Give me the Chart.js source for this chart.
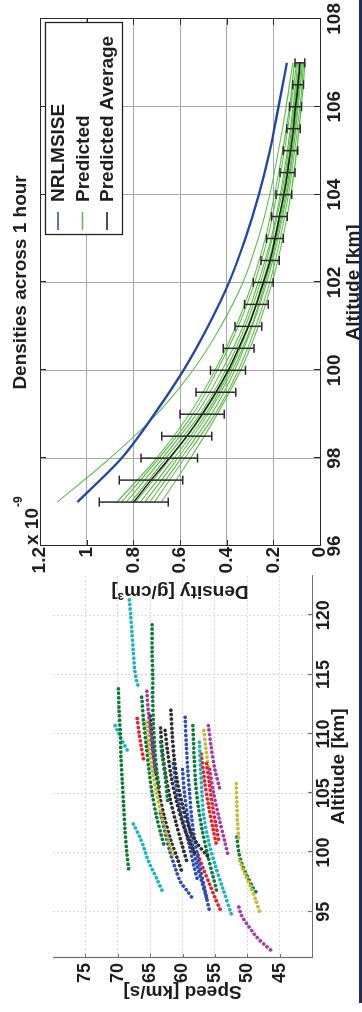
<!DOCTYPE html>
<html>
<head>
<meta charset="utf-8">
<script src="https://cdn.jsdelivr.net/npm/chart.js@4"></script>
<style>
  html, body { margin: 0; padding: 0; background: #fff; width: 362px; height: 1012px; overflow: hidden; }
  #fig { position: absolute; left: 0; top: 1012px; width: 1012px; height: 362px; transform-origin: 0 0; transform: rotate(-90deg); }
  #fig canvas { position: absolute; top: 0; }
  #speedCanvas { left: 0; }
  #densCanvas { left: 400px; }
  #edge { position: absolute; left: 359px; top: 0; width: 3px; height: 1003px; background: #1d2b5e; }
</style>
</head>
<body>
<div id="fig">
  <canvas id="speedCanvas" width="460" height="362"></canvas>
  <canvas id="densCanvas" width="612" height="370"></canvas>
</div>
<div id="edge"></div>
<script>
const ink = '#1e1e1e';
const fontFamily = "'Liberation Sans', Arial, Helvetica, sans-serif";
Chart.defaults.font.family = fontFamily;
Chart.defaults.color = ink;

// ---------- top panel: densities across 1 hour (x1e-9 g/cm3) ----------
const altSamples = [97, 98, 99, 100, 101, 102, 103, 104, 105, 106, 107];
const nrlmsise = [1.04, 0.85, 0.71, 0.585, 0.48, 0.39, 0.32, 0.262, 0.215, 0.178, 0.142];
const predicted = [
  [1.126, 0.90, 0.70, 0.545, 0.425, 0.33, 0.265, 0.215, 0.178, 0.145, 0.117],
  [0.87, 0.70, 0.56, 0.45, 0.36, 0.29, 0.235, 0.195, 0.16, 0.13, 0.11],
  [0.85, 0.69, 0.545, 0.44, 0.35, 0.28, 0.225, 0.185, 0.152, 0.125, 0.10],
  [0.83, 0.675, 0.53, 0.42, 0.33, 0.265, 0.21, 0.17, 0.14, 0.115, 0.095],
  [0.81, 0.66, 0.515, 0.405, 0.32, 0.255, 0.205, 0.165, 0.135, 0.11, 0.09],
  [0.79, 0.64, 0.50, 0.39, 0.31, 0.245, 0.195, 0.158, 0.13, 0.106, 0.088],
  [0.77, 0.625, 0.49, 0.385, 0.305, 0.24, 0.19, 0.152, 0.125, 0.10, 0.084],
  [0.75, 0.61, 0.48, 0.375, 0.295, 0.235, 0.185, 0.147, 0.12, 0.097, 0.08],
  [0.73, 0.595, 0.465, 0.365, 0.29, 0.228, 0.18, 0.142, 0.115, 0.093, 0.075],
  [0.71, 0.58, 0.45, 0.35, 0.275, 0.215, 0.17, 0.135, 0.108, 0.086, 0.07],
  [0.68, 0.555, 0.44, 0.34, 0.265, 0.205, 0.16, 0.125, 0.10, 0.08, 0.064]
];
const avgAlt = [97, 97.5, 98, 98.5, 99, 99.5, 100, 100.5, 101, 101.5, 102,
                102.5, 103, 103.5, 104, 104.5, 105, 105.5, 106, 106.5, 107];
const avgDensity = [0.798, 0.724, 0.646, 0.571, 0.505, 0.446, 0.394, 0.349, 0.307, 0.273, 0.243,
                    0.214, 0.193, 0.174, 0.155, 0.139, 0.126, 0.114, 0.105, 0.094, 0.086];
const avgErr = [0.148, 0.136, 0.121, 0.107, 0.095, 0.085, 0.075, 0.066, 0.057, 0.051, 0.043,
                0.039, 0.036, 0.034, 0.034, 0.032, 0.031, 0.029, 0.026, 0.023, 0.021];
const densityTicks = [0, 0.2, 0.4, 0.6, 0.8, 1, 1.2];
const densityTickLabels = ['0', '0.2', '0.4', '0.6', '0.8', '1', '1.2'];
const altTicksTop = [96, 98, 100, 102, 104, 106, 108];
const legendLabels = ['NRLMSISE', 'Predicted', 'Predicted Average'];

// ---------- bottom panel: speed vs altitude tracks, [altitude km, speed km/s] ----------
const altTicksBottom = [95, 100, 105, 110, 115, 120];
const speedTicks = [45, 50, 55, 60, 65, 70, 75];
const tracks = [
  [[121.3,68.2],[120,68.0],[118.5,67.8],[117,67.6],[115.5,67.4],[114.5,67.1],[113.8,66.7]],
  [[119.2,64.7],[117,64.7],[115,64.6],[113,64.6],[111,64.5],[109,64.3],[107,64.0],[105.5,63.6]],
  [[113.8,69.9],[112,69.8],[110,69.6],[108,69.5],[106,69.3],[104,69.1],[102,68.9],[100,68.6],[98.5,68.3]],
  [[110.7,70.4],[110.1,69.9],[109.4,69.3],[108.6,68.5]],
  [[102.4,67.6],[101.3,66.6],[100.3,65.9],[99.3,65.3],[98.5,64.6],[97.7,63.9],[96.6,63.0]],
  [[111.3,67.0],[110,66.7],[109,66.4],[107.8,66.0]],
  [[113.1,66.3],[111,66.0],[109,65.6],[107,65.2],[105,64.7],[103,64.0],[101.5,63.3],[100.5,62.8]],
  [[113.6,65.5],[112,65.3],[110,64.9],[108,64.5],[106.5,64.1]],
  [[111,65.5],[109,65.2],[107,64.7],[105,64.0],[103,63.2],[101,62.2],[99.6,61.4]],
  [[111.5,65.0],[109,64.6],[107,64.2],[105,63.6],[103,62.8],[101,61.8],[99.5,60.8],[98.2,60.0]],
  [[110.3,62.7],[108.5,62.3],[106.5,61.8],[104.5,61.0],[102.5,60.0],[101,59.0],[100,58.2]],
  [[112,61.8],[110,61.6],[108,61.3],[106,60.8],[104,60.0],[102,58.9],[100.8,57.8],[99.6,56.0]],
  [[111.4,59.6],[109,59.4],[107,59.2],[105,58.9],[103,58.6],[101,58.1],[99,57.4],[97,56.6],[95,55.8]],
  [[110.7,58.4],[108,58.2],[106,58.0],[104,57.6],[102,57.0],[100,56.2],[98,55.3],[96.5,54.6]],
  [[109.3,57.4],[107,57.2],[105,57.0],[103,56.7],[101,56.0],[99,55.0],[97,53.8],[94.7,52.4]],
  [[108.3,57.1],[106,56.6],[104,56.0],[102,55.3],[100.5,54.7]],
  [[107.5,56.3],[106,55.9],[104,55.4],[102.5,54.9],[101,54.4]],
  [[99.8,57.6],[98.5,56.7],[97.3,55.8],[96.2,55.0],[95.2,54.2]],
  [[110.7,56.0],[109,55.6],[107,55.0],[105.3,54.2]],
  [[107,55.8],[105,55.2],[103,54.4],[101,53.5],[99.6,52.9]],
  [[110.3,56.7],[108.8,56.4],[107.2,56.0]],
  [[105.8,51.7],[104,51.6],[102.5,51.5],[101,51.3]],
  [[99.3,51.2],[98,50.2],[97,49.4],[96,48.7],[95,48.1]],
  [[101.3,51.6],[100,51.3],[99,50.8],[98,50.0],[97,49.1],[96.5,48.4]],
  [[95.4,51.3],[94.7,50.9],[94,50.1],[93.4,49.3],[92.9,48.6],[92.2,47.3],[91.6,46.0]],
  [[103.3,63.4],[101.5,62.6],[100,61.9],[98.5,61.0],[97.5,60.3],[96.7,59.2],[96,58.3]],
  [[107.5,61.4],[106,61.1],[104,60.5],[102,59.6],[100.5,58.9],[99,58.3],[97.5,57.6]],
  [[109.3,63.4],[108,63.1],[106.5,62.7],[104.4,62.3]],
  [[107,60.0],[105,59.7],[103,59.2],[101,58.6],[99,57.8],[97.5,57.0],[96,56.2]],
  [[110.5,63.4],[108.5,63.1],[106.5,62.6],[104.5,61.9],[102.5,61.0],[100.5,60.0],[99,59.2]]
];
const trackColors = ['cyan', 'green', 'green', 'cyan', 'cyan', 'red', 'green', 'magenta', 'olive', 'black',
                     'black', 'black', 'blue', 'green', 'cyan', 'red', 'red', 'red', 'magenta', 'magenta',
                     'olive', 'olive', 'olive', 'green', 'magenta', 'blue', 'blue', 'green', 'blue', 'black'];
const palette = { cyan: '#17b6c1', green: '#0c7b38', red: '#ee1d23', magenta: '#a43ba9',
                  olive: '#bfbf2c', black: '#2e2e2e', blue: '#2f4db3' };

const pts = (xs, ys) => xs.map((x, i) => ({ x: x, y: ys[i] }));
const boldFont = size => ({ size: size, weight: 'bold' });
const crisp = v => Math.round(v) + 0.5;

// ---------- top chart ----------
const avgColor = '#141414', modelColor = '#2446a8', predColor = '#5cba48';
const densDatasets = [
  { label: 'Predicted Average', data: pts(avgAlt, avgDensity), borderColor: avgColor, borderWidth: 1.4 },
  { label: 'NRLMSISE', data: pts(altSamples, nrlmsise), borderColor: modelColor, borderWidth: 2.4 }
].concat(predicted.map(row => ({ label: 'Predicted', data: pts(altSamples, row), borderColor: predColor, borderWidth: 1.1 })));
densDatasets.forEach(d => Object.assign(d, { pointRadius: 0, cubicInterpolationMode: 'monotone', fill: false }));
const legendColors = [modelColor, predColor, avgColor];

const densityDecor = {
  id: 'densityDecor',
  afterDatasetsDraw(chart) {
    const { ctx, chartArea: a, scales: { x, y } } = chart;
    ctx.save();
    // error bars on the average
    ctx.strokeStyle = '#2b2b2b';
    ctx.lineWidth = 1.5;
    avgAlt.forEach((alt, i) => {
      const px = x.getPixelForValue(alt);
      const lo = y.getPixelForValue(avgDensity[i] - avgErr[i]);
      const hi = y.getPixelForValue(avgDensity[i] + avgErr[i]);
      ctx.beginPath();
      ctx.moveTo(px, lo); ctx.lineTo(px, hi);
      ctx.moveTo(px - 4.5, lo); ctx.lineTo(px + 4.5, lo);
      ctx.moveTo(px - 4.5, hi); ctx.lineTo(px + 4.5, hi);
      ctx.stroke();
    });
    // box and inward ticks
    ctx.strokeStyle = '#2a2a2a';
    ctx.lineWidth = 1;
    ctx.strokeRect(crisp(a.left), crisp(a.top), Math.round(a.width), Math.round(a.height));
    ctx.beginPath();
    altTicksTop.forEach(v => {
      const px = crisp(x.getPixelForValue(v));
      ctx.moveTo(px, a.bottom); ctx.lineTo(px, a.bottom - 6);
      ctx.moveTo(px, a.top); ctx.lineTo(px, a.top + 6);
    });
    densityTicks.forEach(v => {
      const py = crisp(y.getPixelForValue(v));
      ctx.moveTo(a.left, py); ctx.lineTo(a.left + 6, py);
      ctx.moveTo(a.right, py); ctx.lineTo(a.right - 6, py);
    });
    ctx.stroke();
    ctx.restore();
  },
  afterDraw(chart) {
    const { ctx, chartArea: a } = chart;
    ctx.save();
    // exponent label
    ctx.fillStyle = ink;
    ctx.textAlign = 'left';
    ctx.textBaseline = 'alphabetic';
    ctx.font = 'bold 19px ' + fontFamily;
    ctx.fillText('x 10', a.left + 1, a.top - 2);
    const wx = ctx.measureText('x 10').width;
    ctx.font = 'bold 12px ' + fontFamily;
    ctx.fillText('-9', a.left + 2 + wx, a.top - 18);
    // legend
    ctx.font = 'bold 19px ' + fontFamily;
    const w = 34 + Math.max.apply(null, legendLabels.map(t => ctx.measureText(t).width)) + 12;
    const bx = Math.round(a.right - 4 - w), by = Math.round(a.top + 5), bh = 77;
    ctx.fillStyle = '#fff';
    ctx.fillRect(bx, by, w, bh);
    ctx.strokeStyle = '#222';
    ctx.lineWidth = 1.3;
    ctx.strokeRect(bx + 0.5, by + 0.5, Math.round(w), bh);
    ctx.textBaseline = 'middle';
    legendLabels.forEach((t, i) => {
      const yy = by + 13 + i * 24.5;
      ctx.strokeStyle = legendColors[i];
      ctx.lineWidth = 1.5;
      ctx.beginPath();
      ctx.moveTo(bx + 5, yy); ctx.lineTo(bx + 23, yy);
      ctx.stroke();
      ctx.fillStyle = ink;
      ctx.fillText(t, bx + 33, yy + 1);
    });
    ctx.restore();
  }
};

new Chart(document.getElementById('densCanvas'), {
  type: 'line',
  data: { datasets: densDatasets },
  options: {
    responsive: false,
    animation: false,
    events: [],
    layout: { padding: { left: 0, right: 16, top: 0, bottom: 0 } },
    plugins: {
      legend: { display: false },
      tooltip: { enabled: false },
      title: {
        display: true, fullSize: false, text: 'Densities across 1 hour',
        font: boldFont(19), color: ink, padding: { top: 9, bottom: 8.2 }
      }
    },
    scales: {
      x: {
        type: 'linear', min: 96, max: 108,
        afterFit: s => { s.height = 50; },
        afterBuildTicks: s => { s.ticks = altTicksTop.map(v => ({ value: v })); },
        ticks: { padding: 3, font: boldFont(19), color: ink, autoSkip: false, maxRotation: 0 },
        grid: { color: '#a8a8a8', drawTicks: false },
        border: { display: false },
        title: { display: true, text: 'Altitude [km]', font: boldFont(19), color: ink, padding: { top: 0, bottom: 5 } }
      },
      y: {
        type: 'linear', min: 0, max: 1.2,
        afterFit: s => { s.width = 66; },
        afterBuildTicks: s => { s.ticks = densityTicks.map(v => ({ value: v })); },
        ticks: { padding: 1, font: boldFont(19), color: ink, autoSkip: false, callback: (v, i) => densityTickLabels[i] },
        grid: { color: '#a8a8a8', drawTicks: false },
        border: { display: false },
        title: { display: true, text: 'Density [g/cm³]', font: boldFont(19), color: ink, padding: { top: 9, bottom: 0 } }
      }
    }
  },
  plugins: [densityDecor]
});

// ---------- bottom chart ----------
const speedDecor = {
  id: 'speedDecor',
  afterDatasetsDraw(chart) {
    const { ctx, chartArea: a, scales: { x, y } } = chart;
    ctx.save();
    ctx.strokeStyle = '#6e6e6e';
    ctx.lineWidth = 1.2;
    ctx.beginPath();
    ctx.moveTo(crisp(a.left), a.top); ctx.lineTo(crisp(a.left), crisp(a.bottom));
    ctx.lineTo(a.right, crisp(a.bottom));
    altTicksBottom.forEach(v => {
      const px = crisp(x.getPixelForValue(v));
      ctx.moveTo(px, a.bottom); ctx.lineTo(px, a.bottom - 4);
    });
    speedTicks.forEach(v => {
      const py = crisp(y.getPixelForValue(v));
      ctx.moveTo(a.left, py); ctx.lineTo(a.left + 4, py);
    });
    ctx.stroke();
    ctx.restore();
  }
};

new Chart(document.getElementById('speedCanvas'), {
  type: 'scatter',
  data: {
    datasets: tracks.map((t, i) => ({
      data: t.map(p => ({ x: p[0], y: p[1] })),
      showLine: true,
      borderColor: palette[trackColors[i]],
      borderWidth: 3.7,
      borderDash: [0.1, 4.4],
      borderCapStyle: 'round',
      pointRadius: 0,
      tension: 0.3
    }))
  },
  options: {
    responsive: false,
    animation: false,
    events: [],
    layout: { padding: { left: 0, right: 23, top: 53, bottom: 0 } },
    plugins: { legend: { display: false }, tooltip: { enabled: false } },
    scales: {
      x: {
        type: 'linear', min: 91.1, max: 123.4,
        afterFit: s => { s.height = 50; },
        afterBuildTicks: s => { s.ticks = altTicksBottom.map(v => ({ value: v })); },
        ticks: { padding: 1, font: boldFont(18), color: ink, autoSkip: false, maxRotation: 0 },
        grid: { color: '#cdcdcd', drawTicks: false },
        border: { display: false, dash: [1.5, 2.5] },
        title: { display: true, text: 'Altitude [km]', font: boldFont(19), color: ink, padding: { top: 0, bottom: 11.6 } }
      },
      y: {
        type: 'linear', min: 40, max: 80,
        afterFit: s => { s.width = 54; },
        afterBuildTicks: s => { s.ticks = speedTicks.map(v => ({ value: v })); },
        ticks: { padding: 5, font: boldFont(18), color: ink, autoSkip: false },
        grid: { color: '#cdcdcd', drawTicks: false },
        border: { display: false, dash: [1.5, 2.5] },
        title: { display: true, text: 'Speed [km/s]', font: boldFont(19), color: ink, padding: { top: 9, bottom: 0 } }
      }
    }
  },
  plugins: [speedDecor]
});
</script>
</body>
</html>
